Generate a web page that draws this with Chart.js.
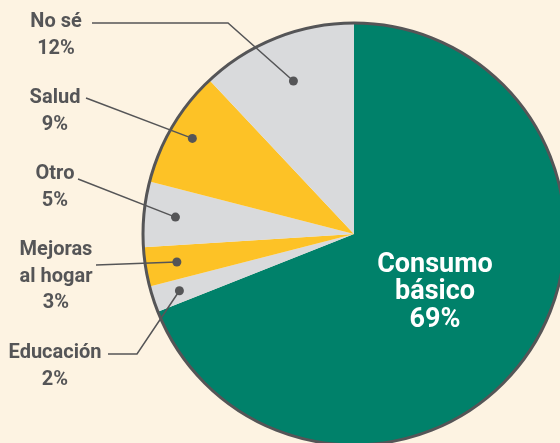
<!DOCTYPE html>
<html>
<head>
<meta charset="utf-8">
<script src="https://cdn.jsdelivr.net/npm/chart.js@4.4.1/dist/chart.umd.min.js"></script>
<style>
  html, body { margin: 0; padding: 0; background: #fdf3e2; overflow: hidden; width: 560px; height: 443px; }
  #wrap { position: absolute; left: 0; top: 0; width: 565px; height: 445px; }
</style>
</head>
<body>
<div id="wrap"><canvas id="chart" width="565" height="445"></canvas></div>
<script>
// data
var categories = ["Consumo\nbásico", "Educación", "Mejoras\nal hogar", "Otro", "Salud", "No sé"];
var values = [69, 2, 3, 5, 9, 12];
var colors = ["#00816a", "#d9dadc", "#fdc226", "#d9dadc", "#fdc226", "#d9dadc"];

var ink = "#555557";
var font = "'Liberation Sans Narrow', 'Roboto', sans-serif";

// where each outside label sits and how its leader line runs
// (index into categories, text centre, line start, optional elbow, dot distance as share of radius)
var callouts = [
    { i: 5, x: 56, y: 22, from: [92, 23], elbow: [228, 23], frac: 0.78 },
    { i: 4, x: 55, y: 98, from: [86, 98], elbow: null, frac: 0.89 },
    { i: 3, x: 55, y: 174, from: [78, 179], elbow: null, frac: 0.85 },
    { i: 2, x: 56, y: 250, from: [96, 265], elbow: null, frac: 0.85 },
    { i: 1, x: 55, y: 353, from: [108, 354], elbow: [137, 354], frac: 0.87 }
];

var pieExtras = {
    id: "pieExtras",
    afterDatasetsDraw: function (chart) {
        var ctx = chart.ctx;
        var arcs = chart.getDatasetMeta(0).data;
        var c = arcs[0];

        // outline round the pie
        ctx.save();
        ctx.beginPath();
        ctx.arc(c.x, c.y, c.outerRadius, 0, Math.PI * 2);
        ctx.lineWidth = 3;
        ctx.strokeStyle = ink;
        ctx.stroke();

        // big label inside the green slice
        ctx.fillStyle = "#ffffff";
        ctx.textAlign = "center";
        ctx.textBaseline = "middle";
        ctx.font = "bold 27px " + font;
        var big = categories[0].split("\n").concat([values[0] + "%"]);
        big.forEach(function (t, k) {
            ctx.fillText(t, 435, 265 + k * 27.5);
        });

        // outside labels with leader lines and dots
        ctx.font = "bold 20px " + font;
        callouts.forEach(function (lb) {
            var a = arcs[lb.i];
            var mid = (a.startAngle + a.endAngle) / 2;
            var dx = a.x + Math.cos(mid) * a.outerRadius * lb.frac;
            var dy = a.y + Math.sin(mid) * a.outerRadius * lb.frac;

            ctx.beginPath();
            ctx.moveTo(lb.from[0], lb.from[1]);
            if (lb.elbow) ctx.lineTo(lb.elbow[0], lb.elbow[1]);
            ctx.lineTo(dx, dy);
            ctx.lineWidth = 1.5;
            ctx.strokeStyle = ink;
            ctx.stroke();

            ctx.beginPath();
            ctx.arc(dx, dy, 4.5, 0, Math.PI * 2);
            ctx.fillStyle = ink;
            ctx.fill();

            var lines = categories[lb.i].split("\n").concat([values[lb.i] + "%"]);
            lines.forEach(function (t, k) {
                ctx.fillText(t, lb.x, lb.y + k * 26.5);
            });
        });
        ctx.restore();
    }
};

var chart = new Chart(document.getElementById("chart").getContext("2d"), {
    type: "pie",
    data: {
        labels: categories,
        datasets: [{
            data: values,
            backgroundColor: colors,
            borderWidth: 0
        }]
    },
    options: {
        responsive: false,
        animation: false,
        devicePixelRatio: 1,
        layout: { padding: { left: 143, top: 23, right: 0, bottom: 0 } },
        plugins: {
            legend: { display: false },
            tooltip: { enabled: false }
        }
    },
    plugins: [pieExtras]
});
</script>
</body>
</html>
